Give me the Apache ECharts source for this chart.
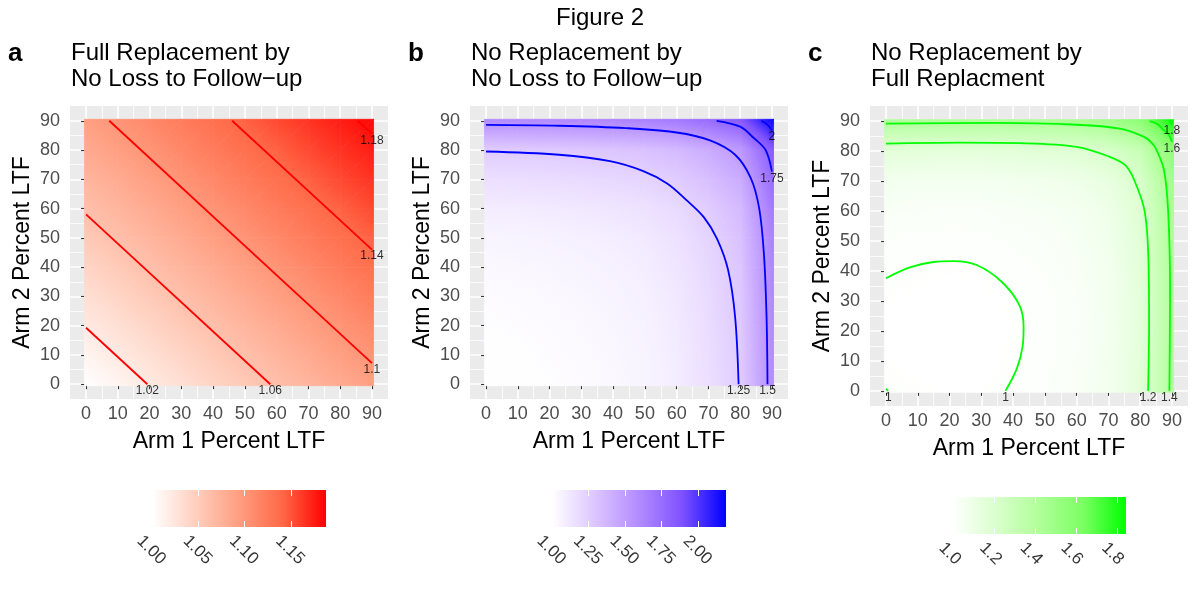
<!DOCTYPE html>
<html>
<head>
<meta charset="utf-8">
<script src="https://cdn.jsdelivr.net/npm/echarts@6/dist/echarts.min.js"></script>
<style>
  html, body { margin: 0; background: #fff; }
  #chart { width: 1200px; height: 600px; }
</style>
</head>
<body>
<div id="chart"></div>
<script>
// grid nodes (percent LTF) used for both arms
const nodes = [0, 10, 20, 30, 40, 50, 60, 70, 80, 90]
const axisTicks = [0, 10, 20, 30, 40, 50, 60, 70, 80, 90]
const minorTicks = [5, 15, 25, 35, 45, 55, 65, 75, 85]

// ratio surfaces, rows = Arm 2 (0..90), cols = Arm 1 (0..90)
const aValues = [
  [1.000, 1.010, 1.021, 1.031, 1.041, 1.052, 1.062, 1.072, 1.082, 1.093],
  [1.010, 1.021, 1.031, 1.041, 1.052, 1.062, 1.072, 1.082, 1.093, 1.103],
  [1.021, 1.031, 1.041, 1.052, 1.062, 1.072, 1.082, 1.093, 1.103, 1.113],
  [1.031, 1.041, 1.052, 1.062, 1.072, 1.082, 1.093, 1.103, 1.113, 1.124],
  [1.041, 1.052, 1.062, 1.072, 1.082, 1.093, 1.103, 1.113, 1.124, 1.134],
  [1.052, 1.062, 1.072, 1.082, 1.093, 1.103, 1.113, 1.124, 1.134, 1.144],
  [1.062, 1.072, 1.082, 1.093, 1.103, 1.113, 1.124, 1.134, 1.144, 1.155],
  [1.072, 1.082, 1.093, 1.103, 1.113, 1.124, 1.134, 1.144, 1.155, 1.165],
  [1.082, 1.093, 1.103, 1.113, 1.124, 1.134, 1.144, 1.155, 1.165, 1.175],
  [1.093, 1.103, 1.113, 1.124, 1.134, 1.144, 1.155, 1.165, 1.175, 1.185]
]
const bValues = [
  [1.000, 1.005, 1.012, 1.022, 1.036, 1.056, 1.095, 1.165, 1.260, 1.595],
  [1.005, 1.010, 1.017, 1.027, 1.041, 1.061, 1.100, 1.170, 1.265, 1.600],
  [1.012, 1.017, 1.024, 1.034, 1.048, 1.068, 1.107, 1.177, 1.272, 1.607],
  [1.022, 1.027, 1.034, 1.044, 1.058, 1.078, 1.117, 1.187, 1.282, 1.617],
  [1.036, 1.041, 1.048, 1.058, 1.072, 1.092, 1.131, 1.201, 1.296, 1.631],
  [1.056, 1.061, 1.068, 1.078, 1.092, 1.112, 1.151, 1.221, 1.316, 1.651],
  [1.095, 1.100, 1.107, 1.117, 1.131, 1.151, 1.190, 1.260, 1.355, 1.690],
  [1.165, 1.170, 1.177, 1.187, 1.201, 1.221, 1.260, 1.330, 1.425, 1.760],
  [1.260, 1.265, 1.272, 1.282, 1.296, 1.316, 1.355, 1.425, 1.520, 1.855],
  [1.595, 1.600, 1.607, 1.617, 1.631, 1.651, 1.690, 1.760, 1.855, 2.190]
]
const cValues = [
  [1.000, 0.996, 0.994, 0.995, 1.002, 1.010, 1.025, 1.060, 1.150, 1.420],
  [0.996, 0.992, 0.990, 0.991, 0.998, 1.006, 1.021, 1.056, 1.146, 1.416],
  [0.994, 0.990, 0.988, 0.989, 0.996, 1.004, 1.019, 1.054, 1.144, 1.414],
  [0.995, 0.991, 0.989, 0.990, 0.997, 1.005, 1.020, 1.055, 1.145, 1.415],
  [1.002, 0.998, 0.996, 0.997, 1.004, 1.012, 1.027, 1.062, 1.152, 1.422],
  [1.010, 1.006, 1.004, 1.005, 1.012, 1.020, 1.035, 1.070, 1.160, 1.430],
  [1.025, 1.021, 1.019, 1.020, 1.027, 1.035, 1.050, 1.085, 1.175, 1.445],
  [1.060, 1.056, 1.054, 1.055, 1.062, 1.070, 1.085, 1.120, 1.210, 1.480],
  [1.150, 1.146, 1.144, 1.145, 1.152, 1.160, 1.175, 1.210, 1.300, 1.570],
  [1.420, 1.416, 1.414, 1.415, 1.422, 1.430, 1.445, 1.480, 1.570, 1.840]
]

// colour bar limits and legend ticks
const aLimits = [1.0, 1.188]
const bLimits = [1.0, 2.19]
const cLimits = [0.99, 1.845]
const aLegendTicks = [1.00, 1.05, 1.10, 1.15]
const bLegendTicks = [1.00, 1.25, 1.50, 1.75, 2.00]
const cLegendTicks = [1.0, 1.2, 1.4, 1.6, 1.8]

// contour lines [Arm 1, Arm 2] and their labels
const aLevels = ['1.02', '1.06', '1.1', '1.14', '1.18']
const aLines = [
  [[0, 19.3], [19.3, 0]],
  [[0, 58], [58, 0]],
  [[7.3, 90], [90, 7.2]],
  [[46, 90], [90, 46]],
  [[85.5, 90], [90, 85.5]]
]
const bLevels = ['1.25', '1.5', '1.75', '2']
const bLines = [
  [[0, 79.5], [23, 78.4], [39, 76.2], [49.5, 72.8], [57, 68.6], [63, 63], [68.6, 57], [72.8, 49.5], [76.2, 39], [78.4, 23], [79.5, 0]],
  [[0, 88.6], [23, 88.3], [44, 87.5], [60, 86], [70.5, 83.3], [78.4, 78.4], [83.3, 70.5], [86, 60], [87.5, 44], [88.3, 23], [88.6, 0]],
  [[72.6, 90], [80, 88], [84.2, 84.2], [88, 80], [90, 72.6]],
  [[86.7, 90], [88.6, 88.6], [90, 86.7]]
]
const cLevels = ['1', '1', '1.2', '1.4', '1.6', '1.8']
const cLines = [
  [[0, 0.7], [0.7, 0]],
  [[0, 37.6], [7.5, 41.2], [14.9, 43], [21.3, 43.3], [28.5, 42], [36.4, 36.4], [42, 28.5], [43.3, 21.3], [43, 14.9], [41.2, 7.5], [37.6, 0]],
  [[0, 82.5], [23, 82.8], [44, 82.6], [60, 81.4], [70.4, 78.1], [75.3, 75.3], [78.1, 70.4], [81.4, 60], [82.6, 44], [82.8, 23], [82.5, 0]],
  [[0, 89.2], [34, 89.4], [60, 88.8], [73.6, 87.5], [80.9, 84.9], [83.2, 83.2], [84.9, 80.9], [87.5, 73.6], [88.8, 60], [89.4, 34], [89.2, 0]],
  [[83, 90], [85.5, 89], [87.2, 87.2], [89, 85.5], [90, 83]],
  [[89, 90], [89.6, 89.6], [90, 89]]
]

// white -> colour ramps (Lab-like midpoints)
const redStops = ['#ffffff', '#ffcfbe', '#ff9e81', '#ff6846', '#ff0000']
const blueStops = ['#ffffff', '#dcc5ff', '#b38bff', '#7e51ff', '#0000ff']
const greenStops = ['#ffffff', '#daffcd', '#b1ff9a', '#7dff64', '#00ff00']

const FONT = '"Liberation Sans", Arial, Helvetica, sans-serif'

const panels = [
  { values: aValues, limits: aLimits, stops: redStops, lineColor: '#ff0000', lines: aLines, levels: aLevels,
    ticks: aLegendTicks, digits: 2, letter: 'a', title: 'Full Replacement by\nNo Loss to Follow\u2212up',
    box: { left: 70, top: 106, width: 318, height: 293 }, legendBox: { left: 152, top: 490, width: 174, height: 37 } },
  { values: bValues, limits: bLimits, stops: blueStops, lineColor: '#0000ff', lines: bLines, levels: bLevels,
    ticks: bLegendTicks, digits: 2, letter: 'b', title: 'No Replacement by\nNo Loss to Follow\u2212up',
    box: { left: 470, top: 106, width: 318, height: 293 }, legendBox: { left: 552, top: 490, width: 174, height: 37 } },
  { values: cValues, limits: cLimits, stops: greenStops, lineColor: '#00ff00', lines: cLines, levels: cLevels,
    ticks: cLegendTicks, digits: 1, letter: 'c', title: 'No Replacement by\nFull Replacment',
    box: { left: 870, top: 106, width: 318, height: 300 }, legendBox: { left: 952, top: 497, width: 174, height: 37 } }
]

function gradientStops(stops) {
  return stops.map((c, k) => ({ offset: k / (stops.length - 1), color: c }))
}

function colorAt(v, limits, stops) {
  let t = (v - limits[0]) / (limits[1] - limits[0])
  t = Math.max(0, Math.min(1, t))
  return echarts.color.lerp(t, stops)
}

// one triangle of the surface, filled with the linear ramp of its three corner values
function triangle(p0, p1, p2, v0, v1, v2, limits, stops) {
  const d1x = p1[0] - p0[0], d1y = p1[1] - p0[1]
  const d2x = p2[0] - p0[0], d2y = p2[1] - p0[1]
  const det = d1x * d2y - d1y * d2x
  const a = ((v1 - v0) * d2y - d1y * (v2 - v0)) / det
  const b = (d1x * (v2 - v0) - (v1 - v0) * d2x) / det
  const g2 = a * a + b * b
  let fill
  if (!isFinite(g2) || g2 < 1e-12) {
    fill = colorAt(v0, limits, stops)
  } else {
    const s = (limits[0] - v0) / g2
    const e = (limits[1] - v0) / g2
    fill = new echarts.graphic.LinearGradient(
      p0[0] + a * s, p0[1] + b * s, p0[0] + a * e, p0[1] + b * e, gradientStops(stops), true)
  }
  return { type: 'polygon', shape: { points: [p0, p1, p2] }, style: { fill: fill, stroke: fill, lineWidth: 0.8 } }
}

function surfaceSeries(p, xi, yi) {
  const cells = []
  for (let j = 0; j < nodes.length - 1; j++) {
    for (let i = 0; i < nodes.length - 1; i++) {
      cells.push([nodes[i], nodes[j], nodes[i + 1], nodes[j + 1],
        p.values[j][i], p.values[j][i + 1], p.values[j + 1][i], p.values[j + 1][i + 1]])
    }
  }
  const first = nodes[0], last = nodes[nodes.length - 1]
  return {
    type: 'custom', xAxisIndex: xi, yAxisIndex: yi, silent: true, z: 1,
    data: cells,
    encode: { x: [0, 2], y: [1, 3] },
    renderItem: function (params, api) {
      // outer tiles reach half a step past the first/last node, like the raster tiles
      let x0 = api.value(0), y0 = api.value(1), x1 = api.value(2), y1 = api.value(3)
      if (x0 === first) x0 -= 0.5
      if (y0 === first) y0 -= 0.5
      if (x1 === last) x1 += 0.5
      if (y1 === last) y1 += 0.5
      const v00 = api.value(4), v10 = api.value(5), v01 = api.value(6), v11 = api.value(7)
      const p00 = api.coord([x0, y0]), p10 = api.coord([x1, y0])
      const p01 = api.coord([x0, y1]), p11 = api.coord([x1, y1])
      return {
        type: 'group',
        children: [
          triangle(p00, p10, p11, v00, v10, v11, p.limits, p.stops),
          triangle(p00, p11, p01, v00, v11, v01, p.limits, p.stops)
        ]
      }
    }
  }
}

function mainAxis(gi, isX) {
  return {
    gridIndex: gi, type: 'value', min: -5.05, max: 95.05,
    name: isX ? 'Arm 1 Percent LTF' : 'Arm 2 Percent LTF',
    nameLocation: 'middle', nameGap: isX ? 31 : 36,
    nameTextStyle: { fontSize: 23, color: '#000', fontFamily: FONT },
    axisLine: { show: false },
    axisTick: { show: true, length: 5, customValues: axisTicks, lineStyle: { color: '#333', width: 1.1 } },
    axisLabel: { customValues: axisTicks, color: '#4d4d4d', fontSize: 18, fontFamily: FONT, margin: isX ? 6 : 10 },
    splitLine: { show: true, lineStyle: { color: '#fff', width: 1.6 } }
  }
}

function minorAxis(gi) {
  return {
    gridIndex: gi, type: 'value', min: -5.05, max: 95.05,
    axisLine: { show: false },
    axisTick: { show: false, customValues: minorTicks },
    axisLabel: { show: false, customValues: minorTicks },
    splitLine: { show: true, lineStyle: { color: '#fff', width: 0.8 } }
  }
}

const grid = [], xAxis = [], yAxis = [], series = []
const title = [{
  text: 'Figure 2', left: 'center', top: 6, padding: 0,
  textStyle: { fontSize: 24, fontWeight: 'normal', color: '#000', fontFamily: FONT }
}]

panels.forEach(function (p) {
  const gi = grid.length
  grid.push(Object.assign({ show: true, backgroundColor: '#ebebeb', borderWidth: 0 }, p.box))
  const xi = xAxis.length, yi = yAxis.length
  xAxis.push(mainAxis(gi, true), minorAxis(gi))
  yAxis.push(mainAxis(gi, false), minorAxis(gi))

  series.push(surfaceSeries(p, xi, yi))
  p.lines.forEach(function (pts) {
    series.push({
      type: 'line', xAxisIndex: xi, yAxisIndex: yi, data: pts, silent: true, z: 3,
      symbol: 'none', showSymbol: false, smooth: 0.35,
      lineStyle: { color: p.lineColor, width: 1.8 }
    })
  })
  series.push({
    type: 'scatter', xAxisIndex: xi, yAxisIndex: yi, silent: true, z: 4,
    symbolSize: 1, itemStyle: { color: 'rgba(0,0,0,0)' },
    data: p.lines.map(function (pts, k) { return { name: p.levels[k], value: pts[pts.length - 1] } }),
    label: { show: true, position: 'bottom', distance: 0, formatter: '{b}', color: '#000', fontSize: 12, fontFamily: FONT }
  })

  title.push({
    text: p.letter, left: p.box.left - 62, top: 41, padding: 0,
    textStyle: { fontSize: 26, fontWeight: 'bold', color: '#000', fontFamily: FONT }
  })
  title.push({
    text: p.title, left: p.box.left + 1, top: 40, padding: 0,
    textStyle: { fontSize: 24, fontWeight: 'normal', color: '#000', lineHeight: 26.5, fontFamily: FONT }
  })

  // colour bar legend
  const lg = grid.length
  grid.push(Object.assign({ show: false }, p.legendBox))
  const lx = xAxis.length, ly = yAxis.length
  const tickAxis = function (pos) {
    return {
      gridIndex: lg, type: 'value', min: p.limits[0], max: p.limits[1], position: pos, z: 10,
      axisLine: { show: false },
      axisTick: { show: true, inside: true, length: 6, customValues: p.ticks, lineStyle: { color: '#fff', width: 1 } },
      axisLabel: { show: false, customValues: p.ticks },
      splitLine: { show: false }
    }
  }
  xAxis.push(tickAxis('bottom'), tickAxis('top'))
  yAxis.push({ gridIndex: lg, type: 'value', min: 0, max: 1, show: false })
  series.push({
    type: 'custom', xAxisIndex: lx, yAxisIndex: ly, silent: true, z: 1,
    data: [[p.limits[0], p.limits[1]]],
    encode: { x: [0, 1] },
    renderItem: function (params, api) {
      const s = api.coord([api.value(0), 0])
      const e = api.coord([api.value(1), 1])
      return {
        type: 'rect',
        shape: { x: s[0], y: e[1], width: e[0] - s[0], height: s[1] - e[1] },
        style: { fill: new echarts.graphic.LinearGradient(s[0], 0, e[0], 0, gradientStops(p.stops), true) }
      }
    }
  })
  // rotated legend tick labels under the bar
  series.push({
    type: 'scatter', xAxisIndex: lx, yAxisIndex: ly, silent: true, z: 5,
    symbolSize: 1, itemStyle: { color: 'rgba(0,0,0,0)' },
    data: p.ticks.map(function (t) { return [t, 0] }),
    label: {
      show: true, position: [0, 0], rotate: -45, align: 'left', verticalAlign: 'top', lineHeight: 34,
      color: '#000', fontSize: 17, fontFamily: FONT,
      formatter: function (d) { return Number(d.value[0]).toFixed(p.digits) }
    }
  })
})

const chart = echarts.init(document.getElementById('chart'))
chart.setOption({
  animation: false,
  backgroundColor: '#fff',
  textStyle: { fontFamily: FONT },
  title: title,
  grid: grid,
  xAxis: xAxis,
  yAxis: yAxis,
  series: series
})
window.addEventListener('resize', () => chart.resize())
</script>
</body>
</html>
